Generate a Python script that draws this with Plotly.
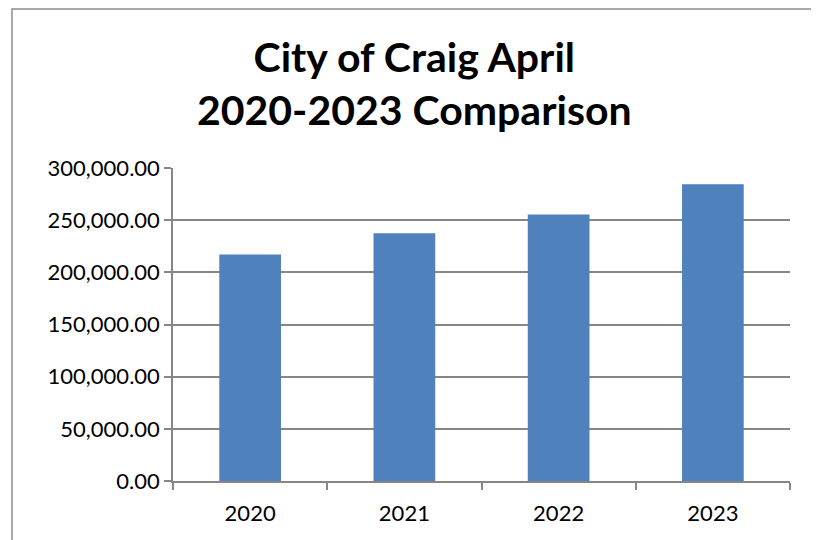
import plotly.graph_objects as go

years = ["2020", "2021", "2022", "2023"]
values = [217000, 237500, 255500, 284500]
y_ticks = [0, 50000, 100000, 150000, 200000, 250000, 300000]
y_tick_labels = ["{:,.2f}".format(v) for v in y_ticks]

OFF = 8  # page body margin in the browser
W, H = 819 - OFF, 540 - OFF
# desired plot area in screen pixels
SX0, SX1, SY0, SY1 = 173, 790, 168, 481
L, T = SX0 - OFF, SY0 - OFF
R, B = W - (SX1 - OFF), H - (SY1 - OFF)
pw, ph = SX1 - SX0, SY1 - SY0

def px_x(p):
    return (p - SX0) / pw

def px_y(p):
    return (SY1 - p) / ph

fig = go.Figure(go.Bar(
    x=years, y=values,
    marker=dict(color="#4F81BD", line=dict(width=0)),
    width=0.4,
))

fig.update_layout(
    width=W, height=H,
    margin=dict(l=L, r=R, t=T, b=B, pad=0),
    paper_bgcolor="white", plot_bgcolor="white",
    showlegend=False,
    font=dict(family="Lato", color="black"),
    annotations=[dict(
        text="<b>City of Craig April<br>2020-2023 Comparison</b>",
        xref="paper", yref="paper",
        x=px_x(414), y=px_y(83), xanchor="center", yanchor="middle",
        showarrow=False, font=dict(family="Lato", size=41, color="black"),
        align="center",
    )],
    shapes=[dict(
        type="rect", xref="paper", yref="paper",
        x0=px_x(12), x1=px_x(816), y0=px_y(580), y1=px_y(9),
        line=dict(color="#8c8c8c", width=1.5), fillcolor="rgba(0,0,0,0)",
        layer="below",
    )],
)

fig.update_xaxes(
    type="category", showgrid=False,
    showline=True, linecolor="#868686", linewidth=1.5,
    ticks="outside", ticklen=7, tickcolor="#868686", tickwidth=1.5,
    tickson="boundaries", ticklabelstandoff=12,
    tickfont=dict(family="Lato", size=22, color="black"),
    range=[-0.5, 3.5],
)
fig.update_yaxes(
    range=[0, 300000], tickvals=y_ticks, ticktext=y_tick_labels,
    showgrid=True, gridcolor="#868686", gridwidth=1.5,
    showline=True, linecolor="#868686", linewidth=1.5,
    ticks="outside", ticklen=7, tickcolor="#868686", tickwidth=1.5,
    tickfont=dict(family="Lato", size=22, color="black"),
    zeroline=False,
)

fig.write_html("out.html")
